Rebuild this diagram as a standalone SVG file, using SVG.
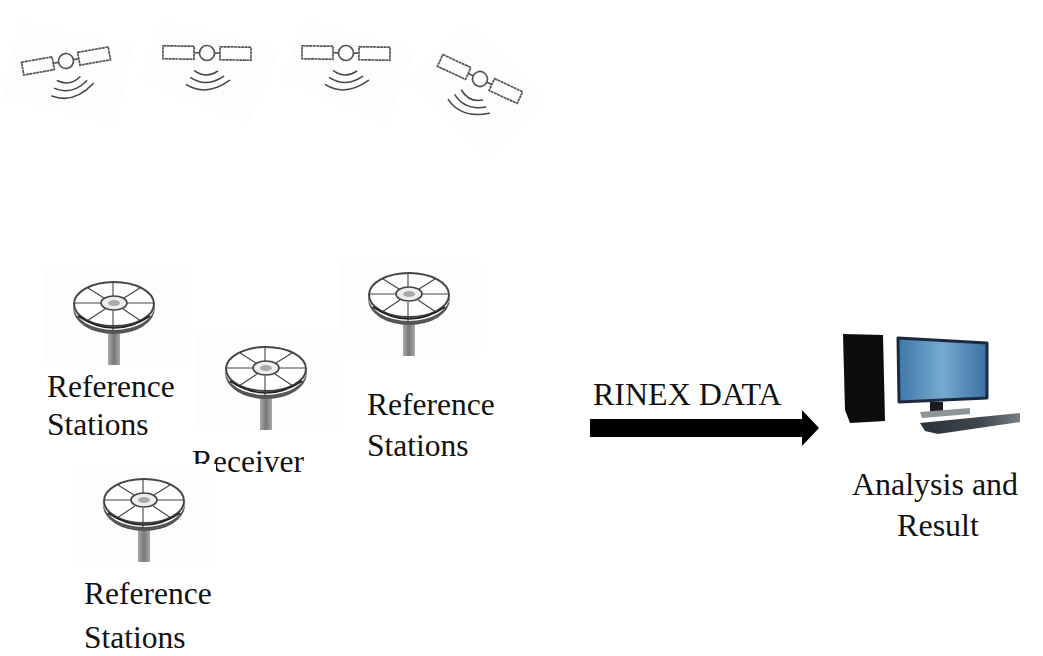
<svg xmlns="http://www.w3.org/2000/svg" width="1043" height="656" viewBox="0 0 1043 656">
<style>
text{font-family:"Liberation Serif","Times New Roman",serif;font-size:31.5px;fill:#111}
.wide{font-size:32px}
.ln{fill:none;stroke:#555;stroke-width:1.7}
.arc{fill:none;stroke:#444;stroke-width:1.5;stroke-linecap:round}
.pale{fill:#fdfdfd}
.dk{fill:none;stroke:#444;stroke-width:1.1}
</style>
<defs>
<filter id="soft" x="-10%" y="-10%" width="120%" height="120%"><feGaussianBlur stdDeviation="0.6"/></filter>
<linearGradient id="screen" x1="0" x2="1" y1="0" y2="0"><stop offset="0" stop-color="#3f76ab"/><stop offset="0.5" stop-color="#74abcd"/><stop offset="1" stop-color="#3d6ea6"/></linearGradient>
<linearGradient id="pole" x1="0" x2="1" y1="0" y2="0"><stop offset="0" stop-color="#aaa"/><stop offset="0.5" stop-color="#777"/><stop offset="1" stop-color="#aaa"/></linearGradient>
<linearGradient id="keys" x1="0" x2="1" y1="0" y2="0"><stop offset="0" stop-color="#2a3238"/><stop offset="0.6" stop-color="#3d464d"/><stop offset="1" stop-color="#777e84"/></linearGradient>
<g id="sat">
<rect class="ln" x="-44" y="-6.5" width="31" height="13" stroke-dasharray="3 .5"/>
<rect class="ln" x="13" y="-6.5" width="31" height="13" stroke-dasharray="3 .5"/>
<circle class="ln" r="7.5"/>
<path class="ln" d="M-13 0H-7.5M7.5 0H13"/>
<path class="arc" d="M-12 18Q0 26 11 18M-16 25Q0 35 17 23M-20 32Q0 44 23 27"/>
</g>
<g id="dish">
<rect class="pale" x="-70" y="-40" width="142" height="98"/>
<rect x="-6" y="24" width="12" height="34" fill="url(#pole)"/>
<path d="M-41 -2A41 25 0 0 0 41 -2L41 1A41 26 0 0 1 -41 1Z" fill="#555"/>
<ellipse cx="0" cy="-3" rx="40" ry="22" fill="#fff" stroke="#444" stroke-width="2"/>
<path class="dk" d="M-40 -4H-13M13 -4H40M-1 -25V-10M-1 4V24M-9 2L-27 14M9 2L27 14M-10 -9L-26 -19M10 -9L26 -19"/>
<ellipse cx="0" cy="-4" rx="13" ry="7" fill="#eee" stroke="#444" stroke-width="1.6"/>
<ellipse cx="0" cy="-4" rx="6" ry="3" fill="#aaa"/>
<path d="M-36 9Q0 33 36 9" fill="none" stroke="#222" stroke-width="1.6"/>
</g>
</defs>
<g id="satellites" filter="url(#soft)">
<g id="satellite-1"><polygon class="pale" points="20,20 133,47 117,125 2,98"/><use href="#sat" transform="translate(66 61) rotate(-10)"/></g>
<g id="satellite-2"><polygon class="pale" points="160,20 280,50 248,125 140,80"/><use href="#sat" transform="translate(207 53) rotate(1)"/></g>
<g id="satellite-3"><polygon class="pale" points="305,20 415,50 387,125 280,80"/><use href="#sat" transform="translate(346 53) rotate(1)"/></g>
<g id="satellite-4"><polygon class="pale" points="470,22 545,100 490,160 410,80"/><use href="#sat" transform="translate(480 79) rotate(25)"/></g>
</g>
<g id="ref-station-1"><use href="#dish" transform="translate(114 307)" filter="url(#soft)"/><text x="47" y="397">Reference</text><text x="47" y="435">Stations</text></g>
<g id="receiver"><use href="#dish" transform="translate(266 372)" filter="url(#soft)"/><text x="192" y="472">Receiver</text></g>
<g id="ref-station-2"><use href="#dish" transform="translate(409 298)" filter="url(#soft)"/><text x="367" y="415">Reference</text><text x="367" y="456">Stations</text></g>
<g id="ref-station-3"><use href="#dish" transform="translate(144 504)" filter="url(#soft)"/><text x="84" y="604">Reference</text><text x="84" y="648">Stations</text></g>
<g id="computer" filter="url(#soft)">
<polygon points="843,334 883,335 885,421 850,423 845,410" fill="#0a0a0c"/>
<polygon points="898,338 987,343 987,398 899,402" fill="url(#screen)" stroke="#1d2c3c" stroke-width="3" stroke-linejoin="round"/>
<rect x="930" y="402" width="13" height="11" fill="#1a1f24"/>
<path d="M920 412L970 408 970 414 922 418Z" fill="#8d959b"/>
<path d="M920 423L1020 413 1020 422 938 434 925 431Z" fill="url(#keys)"/>
</g>
<g id="connectors"><polygon id="rinex-arrow" points="590,419 802,419 802,410 819,428 802,446 802,437 590,437" fill="#000"/></g>
<text class="wide" x="593" y="405">RINEX DATA</text>
<g id="analysis"><text class="wide" x="935" y="495" text-anchor="middle">Analysis and</text><text class="wide" x="938" y="536" text-anchor="middle">Result</text></g>
</svg>
